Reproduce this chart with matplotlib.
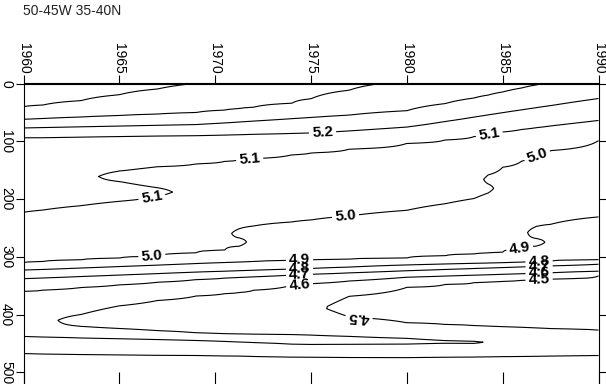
import numpy as np
import matplotlib
matplotlib.use("Agg")
import matplotlib.pyplot as plt

plt.rcParams['font.family'] = ['Liberation Sans', 'DejaVu Sans']

title = "50-45W 35-40N"

# Column years of the gridded section
years = [1960, 1961, 1963, 1965, 1967, 1969, 1970.5, 1971.25, 1972, 1974, 1975,
         1977, 1980, 1982, 1983.5, 1984.25, 1985, 1986, 1986.75, 1987.5, 1990]

# Profiles (depth, value)
p1960 = [(0,5.57),(40,5.5),(62,5.4),(77,5.3),(94,5.2),(223,5.1),(310,5.0),(323,4.9),(338,4.8),(360,4.7),(438,4.6),(467.5,4.5),(500,4.45)]
p1961 = [(0,5.565),(37.4,5.5),(60.7,5.4),(76.3,5.3),(93.6,5.2),(219.2,5.1),(308.5,5.0),(322,4.9),(336.7,4.8),(357.7,4.7),(439,4.6),(468.3,4.5),(500,4.45)]
p1963 = [(0,5.545),(29.7,5.5),(58,5.4),(75,5.3),(92.5,5.2),(211.6,5.1),(305.5,5.0),(319.5,4.9),(334.2,4.8),(353.2,4.7),(400,4.6),(410,4.546),(420.4,4.6),(430,4.62),(440.8,4.6),(469.2,4.5),(500,4.45)]
p1965 = [(0,5.525),(19.5,5.5),(55.5,5.4),(73.7,5.3),(91.7,5.2),(151.7,5.1),(161,5.05),(169.7,5.1),(187,5.125),(204,5.1),(302.5,5.0),(317,4.9),(331.7,4.8),(348.6,4.7),(385,4.6),(405,4.55),(424.2,4.6),(433,4.62),(442,4.6),(470,4.5),(500,4.45)]
p1967 = [(0,5.512),(9.5,5.5),(52.9,5.4),(72.4,5.3),(91,5.2),(144.1,5.1),(162,5.07),(180.6,5.1),(188,5.12),(195.7,5.1),(299.1,5.0),(314.5,4.9),(329.2,4.8),(344.1,4.7),(375.7,4.6),(402,4.55),(427.9,4.6),(436,4.62),(443.5,4.6),(470.5,4.5),(500,4.45)]
p1969 = [(0,5.4995),(50.3,5.4),(71.1,5.3),(90.2,5.2),(139.2,5.1),(293.4,5.0),(311.8,4.9),(326.6,4.8),(339.5,4.7),(368,4.6),(400,4.55),(431.7,4.6),(438,4.62),(445,4.6),(471,4.5),(500,4.45)]
p1970_5 = [(0,5.48),(46,5.4),(68.3,5.3),(89.2,5.2),(134.8,5.1),(288.6,5.0),(310,4.9),(325,4.8),(337,4.7),(364,4.6),(398,4.545),(433.3,4.6),(440,4.62),(446.7,4.6),(471.7,4.5),(500,4.45)]
p1971_25 = [(0,5.47),(43.5,5.4),(66.7,5.3),(88.6,5.2),(132.5,5.1),(251.7,5.0),(259.6,4.979),(267.5,5.0),(274.6,5.049),(281.7,5.0),(309.2,4.9),(324.2,4.8),(335.8,4.7),(362,4.6),(396,4.543),(433.7,4.6),(441,4.62),(447.7,4.6),(472,4.5),(500,4.45)]
p1972 = [(0,5.46),(41.1,5.4),(65.1,5.3),(88,5.2),(130.1,5.1),(246.8,5.0),(308.4,4.9),(323.4,4.8),(334.7,4.7),(358,4.6),(395,4.54),(434,4.6),(441,4.62),(448.7,4.6),(472.5,4.5),(500,4.45)]
p1974 = [(0,5.44),(34.2,5.4),(60.9,5.3),(86.4,5.2),(123.5,5.1),(239.8,5.0),(306.4,4.9),(321.4,4.8),(331.6,4.7),(349,4.6),(392,4.53),(434.8,4.6),(443,4.62),(451.5,4.6),(473.7,4.5),(500,4.45)]
p1975 = [(0,5.43),(26.5,5.4),(58.8,5.3),(85.6,5.2),(120.2,5.1),(236.3,5.0),(305.7,4.9),(320.3,4.8),(330.3,4.7),(346.6,4.6),(390,4.52),(435.7,4.6),(444,4.62),(451.9,4.6),(474,4.5),(500,4.45)]
p1977 = [(0,5.41),(11.6,5.4),(54.7,5.3),(82.1,5.2),(113.6,5.1),(229.4,5.0),(304.2,4.9),(317.9,4.8),(327.9,4.7),(342,4.6),(368.4,4.5),(386,4.463),(404.3,4.5),(437.9,4.6),(445,4.62),(451.7,4.6),(474.3,4.5),(500,4.45)]
p1980 = [(0,5.392),(47.1,5.3),(75.4,5.2),(103.7,5.1),(219.6,5.0),(302.1,4.9),(314.2,4.8),(324.2,4.7),(335.4,4.6),(353,4.5),(383,4.45),(414.3,4.5),(441.3,4.6),(446,4.615),(451.3,4.6),(474.5,4.5),(500,4.45)]
p1982 = [(0,5.37),(34.8,5.3),(65.8,5.2),(97.7,5.1),(208.2,5.0),(298.3,4.9),(312.6,4.8),(322,4.7),(333.4,4.6),(348,4.5),(382,4.45),(417.3,4.5),(445.2,4.6),(447.5,4.61),(449.8,4.6),(474,4.5),(500,4.45)]
p1983_5 = [(0,5.35),(25.2,5.3),(58.2,5.2),(92,5.1),(199.2,5.0),(295.2,4.9),(311.5,4.8),(320.3,4.7),(331.9,4.6),(344.8,4.5),(381,4.45),(419.2,4.5),(446.5,4.6),(448.2,4.61),(450,4.6),(473.5,4.5),(500,4.45)]
p1984_25 = [(0,5.34),(20,5.3),(54.3,5.2),(88,5.1),(158.2,5.0),(166,4.985),(174,5.0),(181.7,5.015),(189.4,5.0),(293.6,4.9),(310.9,4.8),(319.5,4.7),(331.2,4.6),(343.6,4.5),(381,4.45),(420.2,4.5),(448,4.595),(473.2,4.5),(500,4.45)]
p1985 = [(0,5.33),(14.7,5.3),(50.5,5.2),(84,5.1),(145,5.0),(292,4.9),(310.4,4.8),(318.7,4.7),(330.4,4.6),(342.3,4.5),(381,4.45),(421.1,4.5),(447,4.575),(473,4.5),(500,4.45)]
p1986 = [(0,5.315),(7.7,5.3),(45.6,5.2),(79.5,5.1),(134.2,5.0),(286.1,4.9),(309.4,4.8),(317.5,4.7),(329.4,4.6),(340.6,4.5),(380,4.45),(422.3,4.5),(447,4.57),(472.6,4.5),(500,4.45)]
p1986_75 = [(0,5.305),(2.5,5.3),(41.9,5.2),(76.5,5.1),(125.3,5.0),(247.7,4.9),(258,4.872),(268.5,4.9),(275,4.9735),(281.4,4.9),(308.6,4.8),(316.7,4.7),(328.6,4.6),(339.4,4.5),(380,4.45),(423.4,4.5),(447,4.57),(472.3,4.5),(500,4.45)]
p1987_5 = [(0,5.294),(38.3,5.2),(73.5,5.1),(116.2,5.0),(243.9,4.9),(307.8,4.8),(315.8,4.7),(327.8,4.6),(338.4,4.5),(380,4.45),(424.6,4.5),(447,4.57),(472,4.5),(500,4.45)]
p1990 = [(0,5.27),(26,5.2),(64,5.1),(99,5.0),(231,4.9),(305,4.8),(313,4.7),(325,4.6),(333,4.5),(380,4.45),(427,4.5),(447,4.565),(471,4.5),(500,4.45)]

profiles = [p1960, p1961, p1963, p1965, p1967, p1969, p1970_5, p1971_25, p1972, p1974,
            p1975, p1977, p1980, p1982, p1983_5, p1984_25, p1985, p1986, p1986_75,
            p1987_5, p1990]

levels = [4.5, 4.6, 4.7, 4.8, 4.9, 5.0, 5.1, 5.2, 5.3, 5.4, 5.5]

# label anchor points (year, depth)
label_years  = [1975.6, 1966.7, 1971.8, 1984.3, 1966.7, 1976.8, 1986.8,
                1974.4, 1985.9, 1974.4, 1986.9, 1974.4, 1986.9, 1974.4, 1986.9,
                1986.9, 1977.5]
label_depths = [84.6, 196.9, 130.7, 88, 300, 230, 125,
                306.2, 287, 321.0, 308.5, 331.2, 316.5, 348.3, 328.4,
                339.2, 406]
# the label drawn upside-down in the original
flipped_label = (1977.5, 406)

x_ticks = [1960, 1965, 1970, 1975, 1980, 1985, 1990]
y_ticks = [0, 100, 200, 300, 400, 500]

# ---- grid table built from the profiles ----
depth = np.arange(0, 500.5, 1.0)
Z = np.column_stack([np.interp(depth, [k[0] for k in p], [k[1] for k in p]) for p in profiles])

W, H = 606, 384
fig = plt.figure(figsize=(W/100, H/100), dpi=100)
left_px, right_px, top_px = 23.5, 598.5, 83.5
ax = fig.add_axes([left_px/W, 0, (right_px-left_px)/W, (H-top_px)/H])

cs = ax.contour(np.array(years), depth, Z, levels=levels, colors='black',
                linewidths=0.8)

ax.set_xlim(1960, 1990)
px_per_unit = 0.5775
ax.set_ylim((H - top_px)/px_per_unit, 0)

with plt.rc_context({'font.weight': 'bold'}):
    texts = ax.clabel(cs, manual=list(zip(label_years, label_depths)), inline=True,
                      fmt='%.1f', fontsize=11, inline_spacing=3)

# flip the one label that is printed upside-down
best, bd = None, 1e9
for t in texts:
    x, y = t.get_position()
    dd = (x - flipped_label[0])**2 + ((y - flipped_label[1])/20.0)**2
    if dd < bd:
        best, bd = t, dd
if best is not None:
    best.set_rotation(best.get_rotation() + 180)

# axes styling
ax.spines['bottom'].set_visible(False)
for s in ['left', 'right', 'top']:
    ax.spines[s].set_linewidth(0.8)

ax.set_xticks(x_ticks)
ax.tick_params(axis='x', which='major', bottom=True, top=False, labelbottom=False,
               direction='in', length=8.5, width=0.8)
ax.set_yticks(y_ticks)
ax.yaxis.set_ticks_position('both')
ax.tick_params(axis='y', which='major', direction='out', length=5.5, width=0.8,
               labelleft=True, labelright=False, labelsize=10, pad=2)
for t in ax.get_yticklabels():
    t.set_rotation(-90)
    t.set_va('center')
    t.set_ha('right')

sec = ax.secondary_xaxis('top')
sec.set_xticks(x_ticks)
sec.tick_params(axis='x', direction='out', length=5.5, width=0.8, labelsize=10, pad=1.5)
for t in sec.get_xticklabels():
    t.set_rotation(-90)
    t.set_ha('center')
    t.set_va('bottom')
sec.spines['top'].set_linewidth(0.8)

fig.text(23/W, 1 - 4/H, title, ha='left', va='top', fontsize=10, color='#222222')

fig.savefig('out.png', dpi=100)
